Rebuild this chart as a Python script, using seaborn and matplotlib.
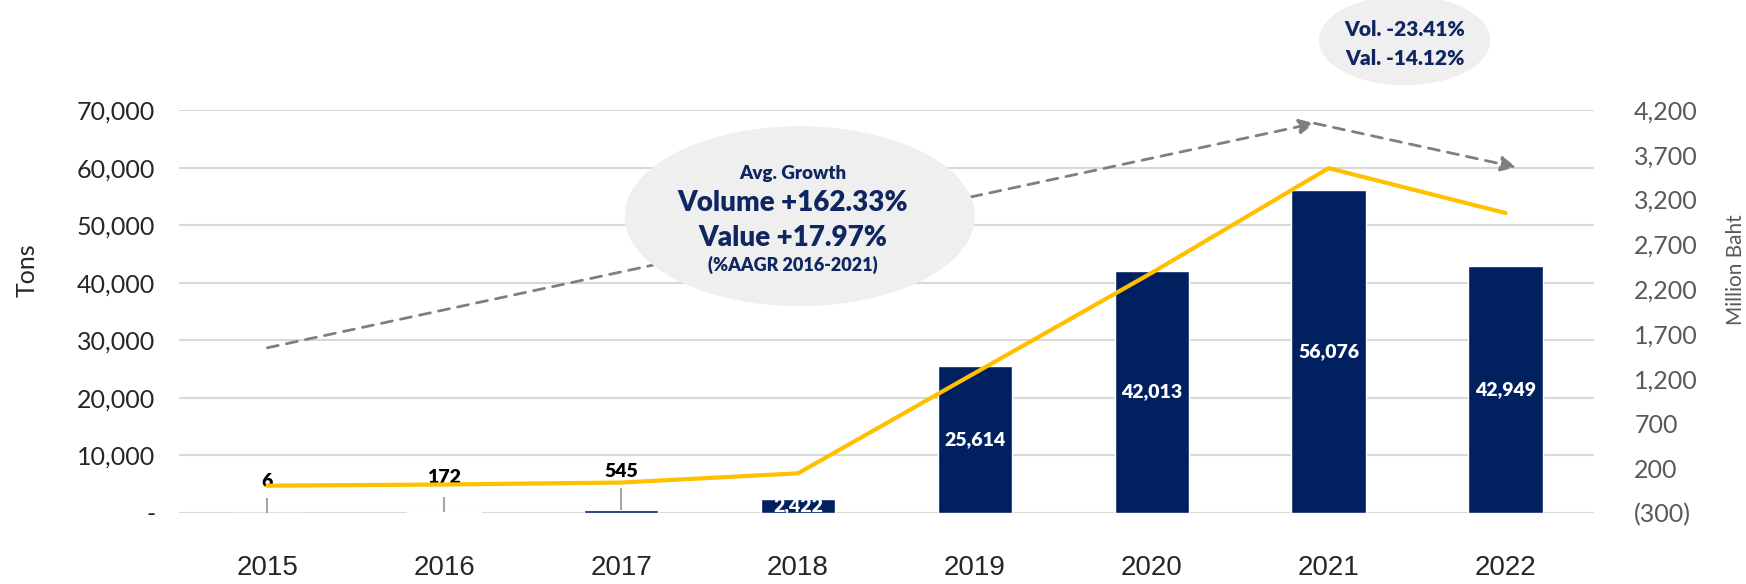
import numpy as np
import pandas as pd
import seaborn as sns
import matplotlib.pyplot as plt
from matplotlib.patches import Ellipse

# chart data
years = ['2015', '2016', '2017', '2018', '2019', '2020', '2021', '2022']
volume_tons = [6, 172, 545, 2422, 25614, 42013, 56076, 42949]
value_mbaht = [5, 18, 40, 143, 1263, 2382, 3551, 3050]
volume_labels = ['6', '172', '545', '2,422', '25,614', '42,013', '56,076', '42,949']
bar_colors = ['#002060', '#8497B0', '#002060', '#002060', '#002060', '#002060', '#002060', '#002060']

left_ticks = [0, 10000, 20000, 30000, 40000, 50000, 60000, 70000]
left_tick_labels = ['-', '10,000', '20,000', '30,000', '40,000', '50,000', '60,000', '70,000']
right_ticks = [-300, 200, 700, 1200, 1700, 2200, 2700, 3200, 3700, 4200]
right_tick_labels = ['(300)', '200', '700', '1,200', '1,700', '2,200', '2,700', '3,200', '3,700', '4,200']

df = pd.DataFrame({'Year': years, 'Tons': volume_tons, 'MBaht': value_mbaht,
                   'pos': np.arange(len(years))})

sns.set_style('white')
plt.rcParams['font.family'] = ['Lato', 'DejaVu Sans']

navy = '#002060'
text_navy = '#0F2660'
gold = '#FFC000'
grey_arrow = '#7F7F7F'

fig = plt.figure(figsize=(17.46, 5.84), dpi=100)
ax = fig.add_axes([0.1025, 0.1216, 0.8104, 0.690])

sns.barplot(data=df, x='Year', y='Tons', hue='Year', palette=bar_colors, legend=False,
            width=0.42, saturation=1, ax=ax, zorder=2)
ax.set_ylim(0, 70000)
ax.set_xlim(-0.5, 7.5)
ax.set_yticks(left_ticks)
ax.set_yticklabels(left_tick_labels, fontsize=18)
ax.yaxis.grid(True, color='#D9D9D9', lw=1.5, zorder=0)
ax.set_axisbelow(True)
ax.tick_params(axis='y', length=0, pad=17)
ax.tick_params(axis='x', length=0, pad=30)
for lab in ax.get_xticklabels():
    lab.set_fontfamily('Liberation Sans')
    lab.set_fontsize(20)
ax.set_xlabel('')
ax.set_ylabel('Tons', fontsize=18)
ax.yaxis.set_label_coords(-0.099, 0.603)
for s in ax.spines.values():
    s.set_visible(False)

# leader lines for the tiny bars
ax.vlines([0, 1, 2], [6, 172, 545], [2600, 2800, 4300], color='#A6A6A6', lw=1.5, zorder=3)

# bar labels
small_label_y = [5500, 6100, 7200]
for i, (v, lab) in enumerate(zip(volume_tons, volume_labels)):
    if i < 3:
        ax.text(i, small_label_y[i], lab, ha='center', va='center', fontsize=14,
                fontweight='heavy', color='black', zorder=5)
    else:
        ax.text(i, v / 2, lab, ha='center', va='center', fontsize=14,
                fontweight='heavy', color='white', zorder=5)

# dashed trend arrows
arrow_kw = dict(arrowstyle='-|>,head_length=0.9,head_width=0.45', ls=(0, (4, 3)),
                color=grey_arrow, lw=2, shrinkA=0, shrinkB=0)
ax.annotate('', xy=(5.92, 67700), xytext=(0, 28700), arrowprops=arrow_kw, zorder=4)
ax.annotate('', xy=(7.06, 60070), xytext=(5.92, 67700), arrowprops=arrow_kw,
            annotation_clip=False, zorder=4)

# value line on right axis
ax2 = ax.twinx()
sns.lineplot(data=df, x='pos', y='MBaht', color=gold, lw=3, ax=ax2, zorder=3)
ax2.set_ylim(-300, 4200)
ax2.set_yticks(right_ticks)
ax2.set_yticklabels(right_tick_labels, fontsize=18, color='#595959')
ax2.tick_params(axis='y', length=0, pad=29)
ax2.set_ylabel('Million Baht', fontsize=15, color='#595959')
ax2.yaxis.set_label_coords(1.093, 0.603)
ax2.set_xlabel('')
for s in ax2.spines.values():
    s.set_visible(False)

# callout ellipses
e1 = Ellipse((3.01, 51560), width=1.98, height=31250, transform=ax.transData,
             facecolor='#EFEFEF', edgecolor='none', zorder=6)
ax2.add_patch(e1)
e2 = Ellipse((6.43, 82100), width=0.97, height=15600, transform=ax.transData,
             facecolor='#EFEFEF', edgecolor='none', zorder=6, clip_on=False)
ax2.add_patch(e2)

tk = dict(transform=ax.transData, ha='center', va='center', fontweight='heavy',
          color=text_navy, zorder=7, clip_on=False)
ax2.text(2.97, 59030, 'Avg. Growth', fontsize=13.5, **tk)
ax2.text(2.97, 53820, 'Volume +162.33%', fontsize=20, **tk)
ax2.text(2.97, 47740, 'Value +17.97%', fontsize=20, **tk)
ax2.text(2.97, 43060, '(%AAGR 2016-2021)', fontsize=13, **tk)
ax2.text(6.43, 84030, 'Vol. -23.41%', fontsize=15, **tk)
ax2.text(6.43, 79000, 'Val. -14.12%', fontsize=15, **tk)

ax2.set_ylim(-300, 4200)
ax2.set_xlim(-0.5, 7.5)

fig.savefig('out.png', dpi=100)
